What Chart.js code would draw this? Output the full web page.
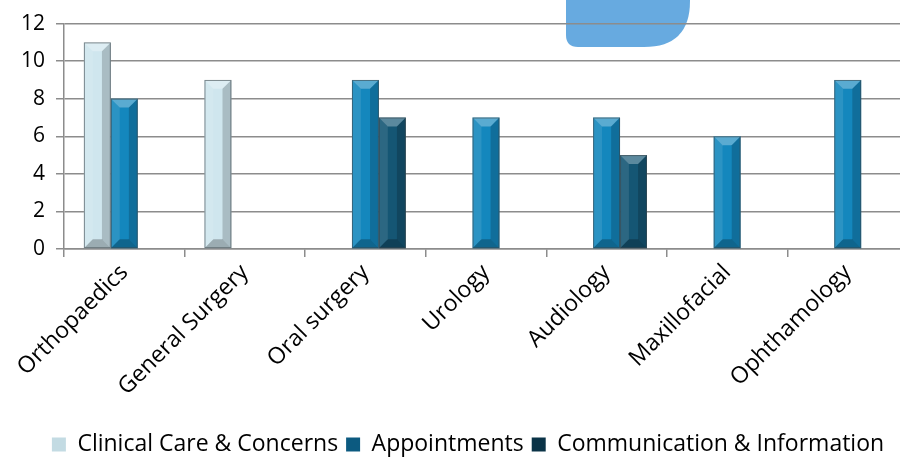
<!DOCTYPE html>
<html>
<head>
<meta charset="utf-8">
<script src="https://cdn.jsdelivr.net/npm/chart.js@4.4.1/dist/chart.umd.min.js"></script>
<style>
  html, body { margin: 0; padding: 0; background: #fff; overflow: hidden; }
  #wrap { position: relative; width: 908px; height: 466px; }
</style>
</head>
<body>
<div id="wrap"><canvas id="chart"></canvas></div>
<script>
const categories = ['Orthopaedics', 'General Surgery', 'Oral surgery', 'Urology', 'Audiology', 'Maxillofacial', 'Ophthamology'];
const clinicalCare = [11, 9, 0, 0, 0, 0, 0];
const appointments = [8, 0, 9, 7, 7, 6, 9];
const communication = [0, 0, 7, 0, 5, 0, 0];
const yMax = 12;
const yStep = 2;

// colour stops across a bar: left, light, mid, right edge
const palettes = {
    clinical: ['#c3dbe3', '#e2f4fa', '#cfe6ee', '#8ea2aa'],
    appts: ['#2596c9', '#22a0d6', '#1487bd', '#0c5a80'],
    comms: ['#1d6787', '#1b6a8c', '#155674', '#0a3347'],
};

const barFill = (pal) => (ctx) => {
    const el = ctx.element;
    if (!el || !ctx.chart.ctx || el.width === undefined) return pal[2];
    const x0 = el.x - el.width / 2;
    const g = ctx.chart.ctx.createLinearGradient(x0, 0, x0 + el.width, 0);
    g.addColorStop(0, pal[0]);
    g.addColorStop(0.35, pal[1]);
    g.addColorStop(0.7, pal[2]);
    g.addColorStop(1, pal[3]);
    return g;
};

// bevel faces drawn over each bar
const bevelPlugin = {
    id: 'bevel',
    afterDatasetsDraw(chart) {
        const ctx = chart.ctx;
        chart.data.datasets.forEach((ds, i) => {
            const meta = chart.getDatasetMeta(i);
            meta.data.forEach((bar) => {
                const h = bar.base - bar.y;
                if (h < 2) return;
                const x0 = bar.x - bar.width / 2;
                const x1 = bar.x + bar.width / 2;
                const top = bar.y;
                const bot = bar.base;
                const b = Math.min(bar.width * 0.33, h / 2);
                ctx.save();
                // top face
                ctx.fillStyle = 'rgba(255,255,255,0.3)';
                ctx.beginPath();
                ctx.moveTo(x0, top); ctx.lineTo(x1, top);
                ctx.lineTo(x1 - b, top + b); ctx.lineTo(x0 + b, top + b);
                ctx.closePath(); ctx.fill();
                // left face
                ctx.fillStyle = 'rgba(255,255,255,0.10)';
                ctx.beginPath();
                ctx.moveTo(x0, top); ctx.lineTo(x0 + b, top + b);
                ctx.lineTo(x0 + b, bot - b); ctx.lineTo(x0, bot);
                ctx.closePath(); ctx.fill();
                // right face
                ctx.fillStyle = 'rgba(0,0,0,0.18)';
                ctx.beginPath();
                ctx.moveTo(x1, top); ctx.lineTo(x1 - b, top + b);
                ctx.lineTo(x1 - b, bot - b); ctx.lineTo(x1, bot);
                ctx.closePath(); ctx.fill();
                // bottom face
                ctx.fillStyle = 'rgba(0,0,0,0.25)';
                ctx.beginPath();
                ctx.moveTo(x0, bot); ctx.lineTo(x1, bot);
                ctx.lineTo(x1 - b, bot - b); ctx.lineTo(x0 + b, bot - b);
                ctx.closePath(); ctx.fill();
                // outline
                ctx.strokeStyle = 'rgba(60,70,75,0.6)';
                ctx.lineWidth = 1;
                ctx.strokeRect(x0 + 0.5, top + 0.5, bar.width - 1, h - 1);
                ctx.restore();
            });
        });
    }
};

// blue rounded shape sitting behind the grid at the top
const shapePlugin = {
    id: 'shape',
    beforeDraw(chart) {
        const ctx = chart.ctx;
        const x0 = 566, x1 = 690, y0 = -10, y1 = 47;
        const rL = 12, rR = 46;
        ctx.save();
        ctx.fillStyle = '#67aae0';
        ctx.beginPath();
        ctx.moveTo(x0, y0);
        ctx.lineTo(x1, y0);
        ctx.lineTo(x1, y1 - rR);
        ctx.quadraticCurveTo(x1, y1, x1 - rR, y1);
        ctx.lineTo(x0 + rL, y1);
        ctx.quadraticCurveTo(x0, y1, x0, y1 - rL);
        ctx.closePath();
        ctx.fill();
        ctx.restore();
    }
};

// nudge the legend a little to the right, like the original
const legendShift = {
    id: 'legendShift',
    afterLayout(chart) {
        if (chart.legend) {
            chart.legend.left += 14;
            chart.legend.right += 14;
        }
    }
};

const tickFont = { family: '"Open Sans", sans-serif', size: 21 };
const labelFont = { family: '"Open Sans", sans-serif', size: 23 };

new Chart(document.getElementById('chart'), {
    type: 'bar',
    data: {
        labels: categories,
        datasets: [
            { label: 'Clinical Care & Concerns', data: clinicalCare, backgroundColor: barFill(palettes.clinical) },
            { label: 'Appointments', data: appointments, backgroundColor: barFill(palettes.appts) },
            { label: 'Communication & Information', data: communication, backgroundColor: barFill(palettes.comms) },
        ],
    },
    options: {
        responsive: true,
        maintainAspectRatio: false,
        animation: false,
        datasets: { bar: { barPercentage: 1, categoryPercentage: 0.67 } },
        layout: { padding: { top: 6, right: 0, bottom: 0, left: 0 } },
        scales: {
            x: {
                grid: { drawOnChartArea: false, drawTicks: true, tickLength: 8, color: '#8c8c8c', lineWidth: 1.5 },
                border: { color: '#8c8c8c', width: 1.5 },
                ticks: { font: labelFont, color: '#000', minRotation: 45, maxRotation: 45, padding: 2 },
                afterFit: (s) => { s.height = 176; },
            },
            y: {
                min: 0,
                max: yMax,
                ticks: { stepSize: yStep, font: tickFont, color: '#000', padding: 11 },
                grid: { color: '#8c8c8c', lineWidth: 1.5, tickLength: 8 },
                border: { color: '#8c8c8c', width: 1.5 },
                afterFit: (s) => { s.width = 64; },
            },
        },
        plugins: {
            legend: {
                position: 'bottom',
                labels: { font: labelFont, color: '#000', boxWidth: 14, boxHeight: 14, padding: 8 },
            },
            tooltip: { enabled: false },
        },
    },
    plugins: [shapePlugin, bevelPlugin, legendShift],
});
</script>
</body>
</html>
